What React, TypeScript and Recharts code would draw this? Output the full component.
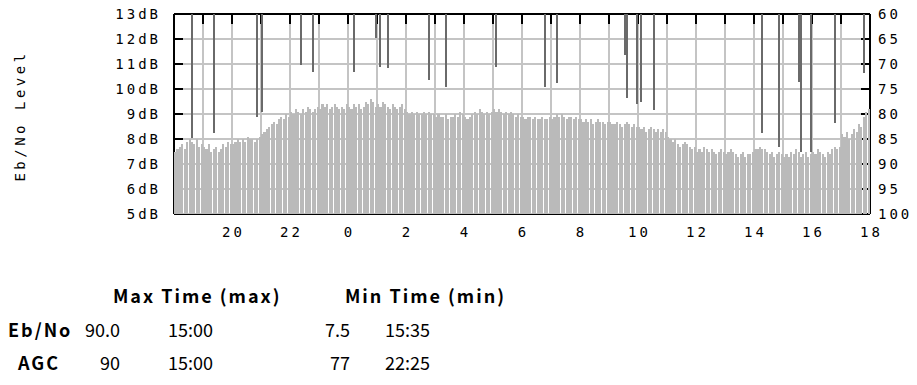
import React from 'react';
import { ComposedChart, Bar, XAxis, YAxis, CartesianGrid } from 'recharts';

// Eb/No level (dB), one value per 5 minutes, 18:00 -> 18:00 (one row per hour)
const ebnoLevels = [
  7.5, 7.6, 7.7, 7.8, 7.6, 7.9, 8.0, 7.9, 7.8, 8.0, 7.7, 7.8, // 18
  7.7, 7.6, 7.8, 7.5, 7.6, 7.7, 7.5, 7.6, 7.8, 7.7, 7.9, 7.8, // 19
  7.8, 7.9, 8.0, 7.9, 8.0, 7.9, 8.1, 8.0, 8.0, 7.9, 8.0, 8.1, // 20
  8.2, 8.3, 8.4, 8.5, 8.6, 8.7, 8.6, 8.8, 8.9, 8.8, 9.0, 8.9, // 21
  9.1, 9.0, 9.2, 9.1, 9.0, 9.2, 9.1, 9.3, 9.2, 9.1, 9.2, 9.3, // 22
  9.2, 9.4, 9.3, 9.4, 9.2, 9.3, 9.4, 9.3, 9.2, 9.3, 9.2, 9.4, // 23
  9.3, 9.2, 9.4, 9.3, 9.4, 9.2, 9.3, 9.5, 9.4, 9.6, 9.5, 9.3, // 0
  9.4, 9.3, 9.5, 9.4, 9.3, 9.2, 9.4, 9.3, 9.2, 9.3, 9.4, 9.2, // 1
  9.1, 9.0, 9.1, 9.0, 9.1, 9.0, 9.0, 9.1, 9.0, 9.1, 9.0, 9.0, // 2
  8.9, 9.0, 8.9, 8.9, 9.0, 8.8, 8.9, 8.9, 9.0, 8.9, 9.1, 9.0, // 3
  8.9, 8.8, 8.9, 9.0, 9.1, 9.0, 9.2, 9.1, 9.0, 9.1, 9.0, 9.1, // 4
  9.2, 9.1, 9.2, 9.1, 9.0, 9.1, 9.0, 9.1, 9.0, 8.9, 9.0, 8.9, // 5
  8.9, 8.8, 8.9, 8.9, 8.8, 8.9, 8.8, 8.8, 8.9, 8.8, 8.8, 8.9, // 6
  8.8, 8.9, 9.0, 8.9, 9.0, 8.9, 8.8, 8.9, 8.9, 8.8, 8.9, 8.8, // 7
  8.8, 8.7, 8.8, 8.7, 8.8, 8.6, 8.7, 8.8, 8.7, 8.7, 8.6, 8.7, // 8
  8.7, 8.6, 8.6, 8.7, 8.6, 8.5, 8.6, 8.7, 8.6, 8.5, 8.6, 8.5, // 9
  8.5, 8.4, 8.5, 8.3, 8.4, 8.5, 8.4, 8.3, 8.4, 8.3, 8.4, 8.3, // 10
  8.1, 8.0, 7.9, 8.0, 7.8, 7.7, 7.8, 7.9, 7.8, 7.7, 7.6, 7.7, // 11
  7.5, 7.6, 7.5, 7.7, 7.6, 7.5, 7.6, 7.5, 7.4, 7.5, 7.6, 7.5, // 12
  7.4, 7.5, 7.6, 7.5, 7.4, 7.3, 7.4, 7.5, 7.3, 7.4, 7.4, 7.5, // 13
  7.6, 7.6, 7.7, 7.6, 7.6, 7.5, 7.4, 7.5, 7.3, 7.4, 7.5, 7.4, // 14
  7.3, 7.4, 7.3, 7.5, 7.4, 7.6, 7.5, 7.3, 7.4, 7.5, 7.3, 7.4, // 15
  7.5, 7.4, 7.6, 7.5, 7.4, 7.3, 7.5, 7.4, 7.6, 7.7, 7.6, 7.7, // 16
  8.2, 8.1, 8.3, 8.0, 8.2, 8.4, 8.3, 8.6, 8.5, 8.9, 9.1, 9.2, // 17
];

// AGC readings that show as drops from the top (right axis, reversed)
const agcTimes = [
  '18:35', '19:20', '20:50', '21:00', '22:20', '22:45', '00:10', '00:55', '01:05',
  '01:20', '02:45', '03:20', '05:05', '06:45', '07:10', '09:30', '09:35', '09:55',
  '10:05', '10:30', '14:15', '14:50', '15:30', '15:35', '15:55', '16:45', '17:45',
];
const agcValues = [
  84.8, 83.8, 80.6, 79.6, 70.2, 71.6, 71.6, 64.8, 70.6,
  70.8, 73.2, 74.6, 70.6, 74.6, 73.8, 68.2, 76.8, 78.0,
  77.6, 79.2, 83.8, 86.6, 73.6, 87.6, 87.6, 81.8, 71.8,
];

const dbTicks = [5, 6, 7, 8, 9, 10, 11, 12, 13];
const agcTicks = [60, 65, 70, 75, 80, 85, 90, 95, 100];
const hourTicks = Array.from({ length: 25 }, (_, i) => i * 60);
const labelTicks = hourTicks.filter((m) => m > 0 && (m / 60) % 2 === 0);

const statHeader = ['Max Time (max)', 'Min Time (min)'];
const statRows = [
  { name: 'Eb/No', max: '90.0', maxTime: '15:00', min: '7.5', minTime: '15:35' },
  { name: 'AGC', max: '90', maxTime: '15:00', min: '77', minTime: '22:25' },
];

const START_HOUR = 18;
const SLOT = 5;

const toSlot = (hhmm: string) => {
  const [h, m] = hhmm.split(':').map(Number);
  const mins = ((h - START_HOUR + 24) % 24) * 60 + m;
  return Math.round(mins / SLOT);
};

const agcBySlot = new Map<number, number>();
agcTimes.forEach((t, i) => agcBySlot.set(toSlot(t), agcValues[i]));

const data = ebnoLevels.map((v, i) => ({
  t: i * SLOT + SLOT / 2,
  ebno: v,
  agc: agcBySlot.has(i) ? agcBySlot.get(i) : null,
}));

const mono = {
  fontFamily: '"DejaVu Sans Mono", monospace',
  fontSize: 14,
  fill: '#000',
  letterSpacing: 3,
};

const hourLabel = (m: number) => String((START_HOUR + m / 60) % 24);

const tableFont: React.CSSProperties = {
  position: 'absolute',
  fontFamily: '"Noto Sans CJK JP", sans-serif',
  fontSize: 18,
  lineHeight: '18px',
  color: '#000',
  whiteSpace: 'nowrap',
};
const bold: React.CSSProperties = { ...tableFont, fontWeight: 'bold', letterSpacing: 2 };

export default function App() {
  return (
    <div style={{ position: 'absolute', left: 0, top: 0, width: 917, height: 385, background: '#fff' }}>
      <ComposedChart
        width={917}
        height={244}
        data={data}
        margin={{ top: 13, right: 0, bottom: 0, left: 0 }}
        style={{ shapeRendering: 'crispEdges' }}
      >
        <CartesianGrid xAxisId="top" yAxisId="db" stroke="#c4c4c4" strokeWidth={2} zIndex={-100} />
        <XAxis
          xAxisId="top"
          orientation="top"
          type="number"
          dataKey="t"
          domain={[0, 1440]}
          ticks={hourTicks}
          height={1}
          tickSize={-10}
          tickFormatter={() => ''}
          stroke="#000"
          strokeWidth={2}
          zIndex={550}
        />
        <XAxis
          xAxisId="main"
          type="number"
          dataKey="t"
          domain={[0, 1440]}
          ticks={labelTicks}
          tickFormatter={hourLabel}
          height={30}
          tickSize={0}
          tickMargin={13}
          tickLine={false}
          axisLine={{ stroke: '#000', strokeWidth: 1 }}
          tick={{ ...mono, dx: 1.5 }}
          zIndex={550}
        />
        <YAxis
          yAxisId="db"
          domain={[5, 13]}
          ticks={dbTicks}
          width={174}
          tickSize={-9}
          tickMargin={22}
          stroke="#000"
          strokeWidth={2}
          tickFormatter={(v: number) => `${v}dB`}
          tick={mono}
          zIndex={550}
        />
        <YAxis
          yAxisId="agc"
          orientation="right"
          reversed
          domain={[60, 100]}
          ticks={agcTicks}
          width={47}
          tickSize={-9}
          tickMargin={17}
          stroke="#000"
          strokeWidth={2}
          tick={mono}
          zIndex={550}
        />
        <Bar
          xAxisId="main"
          yAxisId="db"
          dataKey="ebno"
          fill="#bababa"
          barSize={2.1}
          zIndex={600}
          isAnimationActive={false}
        />
        <Bar
          xAxisId="top"
          yAxisId="agc"
          dataKey="agc"
          fill="#6a6a6a"
          barSize={2}
          zIndex={650}
          isAnimationActive={false}
        />
      </ComposedChart>

      <span
        style={{
          position: 'absolute',
          left: 20,
          top: 116,
          transform: 'translate(-50%, -50%) rotate(-90deg)',
          fontFamily: '"DejaVu Sans Mono", monospace',
          fontSize: 14,
          letterSpacing: 3.5,
          whiteSpace: 'nowrap',
        }}
      >
        Eb/No Level
      </span>

      <span style={{ ...bold, left: 113, top: 286 }}>{statHeader[0]}</span>
      <span style={{ ...bold, left: 345, top: 286 }}>{statHeader[1]}</span>
      {statRows.map((r, i) => (
        <React.Fragment key={r.name}>
          <span style={{ ...bold, left: i === 0 ? 8 : 18, top: 320 + i * 33 }}>{r.name}</span>
          <span style={{ ...tableFont, left: 120, top: 320 + i * 33, transform: 'translateX(-100%)' }}>{r.max}</span>
          <span style={{ ...tableFont, left: 168, top: 320 + i * 33 }}>{r.maxTime}</span>
          <span style={{ ...tableFont, left: 350, top: 320 + i * 33, transform: 'translateX(-100%)' }}>{r.min}</span>
          <span style={{ ...tableFont, left: 385, top: 320 + i * 33 }}>{r.minTime}</span>
        </React.Fragment>
      ))}
    </div>
  );
}
